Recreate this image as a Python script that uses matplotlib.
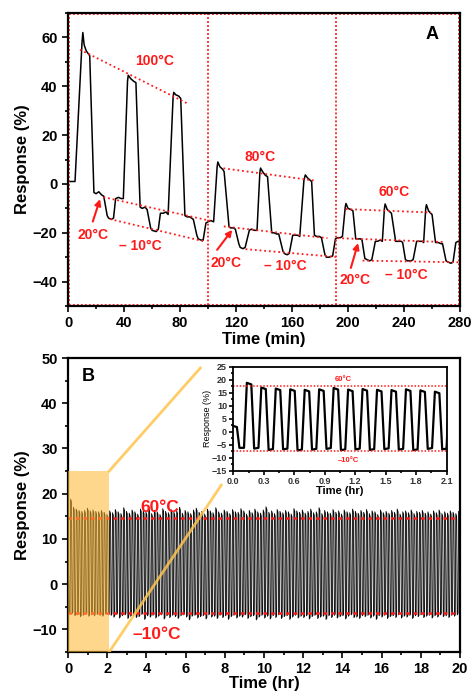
import numpy as np
import matplotlib.pyplot as plt
from matplotlib.patches import Rectangle
from matplotlib.ticker import MultipleLocator

plt.rcParams['font.family'] = ['Liberation Sans', 'DejaVu Sans']
plt.rcParams['font.weight'] = 'bold'
plt.rcParams['axes.labelweight'] = 'bold'

#-- Panel A: response vs time (min), 100 / 80 / 60 C sections --
time_a = [0, 5, 10, 10.6, 11.5, 13, 15.5,
          18.5, 20, 22, 24, 25.5, 28, 29, 31, 32.5, 34, 36, 38, 39.5,
          42.5, 43, 45, 47, 48.5, 51.5, 53, 55, 56.5, 59, 60, 63, 64.5,
          66, 68, 70, 71.5, 75, 75.5, 77, 79, 80.5, 83.5, 85, 87, 89.5,
          92, 93, 95, 96.5, 98.5, 100, 102, 104,
          106.5, 107, 108.5, 110.5, 111.5, 115, 116, 118, 119.5,
          122, 123, 125, 126.5, 129.5, 131, 133, 135,
          137, 137.5, 139, 141, 142.5, 145.5, 147, 149, 150.5,
          153.5, 154.5, 156.5, 158, 160.5, 162, 164, 165.5,
          168.5, 169.5, 171, 173, 174, 176, 177.5, 179.5, 181,
          183.5, 184.5, 186.5, 189, 191, 192.5, 194.5, 196,
          198, 198.5, 200, 202, 203.5, 205.5, 207, 209, 210,
          212, 213.5, 215.5, 217, 219.5, 221, 223, 224.5,
          226, 226.5, 228, 230, 231, 234, 236, 238, 239,
          241, 242.5, 245, 246.5, 249, 251, 253, 254,
          255.5, 256, 257.5, 259, 260, 262.5, 264.5, 266.5, 267.5,
          270, 271.5, 273.5, 275, 277, 278.5, 280]
resp_a = [1, 1, 58, 62, 57, 54.5, 52.5,
          -3.5, -4, -3.2, -4.5, -5, -13, -14, -14.5, -14, -6, -5.5, -6, -6,
          42, 44.5, 43, 42, 41.5, -9.5, -10, -9.5, -10.5, -18, -19, -19.5, -18.5,
          -12, -12, -11.5, -12.5, 35, 37.5, 36.5, 36, 35, -13, -13.5, -13.5, -14.5,
          -21, -22.5, -23, -23, -16, -15.5, -15, -15.5,
          7, 9, 7, 6, 5, -17.5, -18, -18, -18.5,
          -24.5, -26, -26.5, -26, -19, -18.5, -19, -19,
          4.5, 6.5, 5, 3.5, 3, -20, -20, -20.5, -20.5,
          -27.5, -28.5, -29, -28.5, -21, -21, -21, -21.5,
          1.5, 3.7, 2.5, 1.5, 1, -21, -21.5, -21.5, -22,
          -29, -30, -30, -29.5, -22.5, -22, -22, -21.5,
          -9.5, -8, -10, -10.5, -11, -22.5, -22.5, -22.5, -23,
          -30.5, -31, -31.5, -31, -23.5, -23.5, -23, -23.5,
          -10, -8.2, -10.5, -11.5, -12, -23.5, -23.5, -23.5, -24,
          -31, -31.5, -31.5, -31, -23.5, -23.5, -23.5, -24,
          -10, -8.5, -11, -12, -12.5, -24, -24, -24.5, -24.5,
          -31.5, -32, -32.5, -32, -24, -23.5, -24]

# guide lines (start t, start v, end t, end v)
guide_t0 = [8.6, 25.3, 30, 111, 111.3, 126.8, 198.4, 192.5, 210.4]
guide_v0 = [55, -5.4, -14.4, 6.4, -17.4, -26.7, -10.3, -22.2, -31.4]
guide_t1 = [86.2, 101.7, 97, 177, 185.3, 191.3, 259.3, 268.8, 279.6]
guide_v1 = [32.7, -15.1, -23.5, 1.3, -22.2, -29.9, -11.7, -23.8, -32.1]
section_edges = [0.6, 100, 191.3, 279.4]

labels_a = ['100°C', '20°C', '– 10°C', '80°C', '20°C', '– 10°C', '60°C', '20°C', '– 10°C']
label_t = [62, 18, 51.5, 137.5, 112.5, 155.5, 233, 205, 241.5]
label_v = [50.3, -20.8, -25.3, 11.1, -32.4, -33.8, -3.5, -39.2, -37.1]
arrow_from = [(17.7, -15.4), (106.5, -27), (202, -34.4)]
arrow_to = [(22.9, -6.2), (117.3, -18.8), (207.2, -24.2)]

#-- Panel B: 20 hr cycling between 60 C and -10 C --
first_peak = 0.155
cycle_hr = 0.1424
start_resp = [2.2, 1.8]
start_time = [0, 0.035]
trough0 = -6.2
peak_b = [18.8, 17.0, 16.6, 16.3, 16.1, 16.3, 16.8, 16.2, 16.4, 16.1, 16.0, 16.3, 15.9, 15.4,
          16.2, 15.8, 16.5, 16.0, 15.6, 16.9, 16.1, 15.7, 16.4, 16.0,
          15.5, 16.6, 16.2, 15.9, 16.8, 15.6, 16.3, 16.0, 15.4, 16.7,
          16.1, 15.8, 16.5, 15.9, 16.2, 17.0, 15.7, 16.3, 16.0, 15.6,
          16.4, 16.8, 15.9, 16.1, 15.5, 16.6, 16.2, 15.8, 16.9, 16.0,
          15.7, 16.4, 16.1, 15.6, 16.5, 16.0, 15.9, 16.7, 16.2, 15.5,
          16.3, 15.8, 16.6, 16.0, 15.7, 16.4, 17.1, 15.9, 16.2, 15.6,
          16.5, 16.1, 15.8, 16.3, 16.0, 15.5, 16.7, 16.2, 15.9, 16.4,
          15.7, 16.1, 16.6, 15.8, 16.0, 16.9, 15.6, 16.3, 16.0, 15.7,
          16.5, 15.9, 16.2, 15.5, 16.4, 16.0, 15.8, 16.6, 16.1, 15.7,
          16.3, 15.9, 16.5, 15.6, 16.2, 16.0, 15.4, 16.4, 15.8, 16.1,
          15.7, 16.3, 15.9, 16.6, 15.5, 16.0, 16.2, 15.8, 16.4, 15.6,
          16.1, 15.9, 16.3, 15.7, 16.0, 15.5, 16.2, 15.8, 16.4, 15.6,
          16.0, 15.7, 16.2, 15.9, 15.6, 16.1]
trough_b = [-6.5, -7.0, -6.8, -7.2, -6.9, -6.6, -7.1, -6.8, -7.0, -6.7, -6.9, -7.1, -6.6, -6.8,
            -6.9, -7.3, -6.7, -7.5, -7.0, -6.8, -7.6, -7.1, -6.9, -7.4,
            -7.2, -6.7, -7.8, -7.0, -7.3, -6.9, -7.5, -7.1, -6.8, -7.7,
            -7.0, -7.4, -6.9, -7.2, -7.6, -7.0, -6.8, -7.3, -7.9, -7.1,
            -6.9, -7.5, -7.2, -7.0, -7.7, -6.8, -7.3, -7.1, -7.6, -6.9,
            -7.4, -7.0, -7.8, -7.2, -6.9, -7.5, -7.1, -7.3, -6.8, -7.6,
            -7.2, -7.0, -7.9, -7.3, -6.9, -7.5, -7.1, -7.7, -7.0, -7.4,
            -6.8, -7.6, -7.2, -7.0, -7.8, -7.3, -6.9, -7.5, -7.1, -7.4,
            -7.0, -7.7, -7.2, -6.9, -7.6, -7.3, -7.1, -7.8, -7.0, -7.4,
            -6.9, -7.5, -7.2, -7.0, -7.7, -7.1, -6.8, -7.4, -7.3, -7.6,
            -7.0, -7.2, -6.9, -7.5, -7.1, -7.8, -7.0, -7.3, -6.9, -7.6,
            -7.2, -7.0, -7.4, -6.8, -7.5, -7.1, -7.3, -6.9, -7.6, -7.0,
            -7.2, -6.8, -7.4, -7.1, -6.9, -7.5, -7.0, -7.3, -6.8, -7.2,
            -7.0, -7.4, -6.9, -7.1, -6.8, -7.0]
level_60 = 14.6
level_m10 = -6.4
inset_60 = 17.7
inset_m10 = -7.3

# build the square-ish cycle trace from the per cycle peak / trough readings
tb = list(start_time) + [0.06]
vb = list(start_resp) + [trough0]
for j in range(len(peak_b)):
    c = first_peak + j * cycle_hr
    tb += [c - 0.05, c - 0.022, c + 0.022, c + 0.05, c + 0.092]
    vb += [vb[-1], peak_b[j], peak_b[j] - 0.6, trough_b[j], trough_b[j] + 0.3]
tb = np.array(tb[:-1])
vb = np.array(vb[:-1])

red = '#ff1a1a'
fig = plt.figure(figsize=(4.73, 6.96), dpi=100)


def style_axes(ax, lw=1.6, size=10.5, maj=4, mino=2.2):
    for s in ax.spines.values():
        s.set_linewidth(lw)
    ax.tick_params(which='both', direction='out', top=False, right=False,
                   width=1.2, labelsize=size)
    ax.tick_params(which='major', length=maj)
    ax.tick_params(which='minor', length=mino)


#-- A --
axA = fig.add_axes([0.1438, 0.5603, 0.8288, 0.421])
axA.plot(time_a, resp_a, color='black', lw=1.1)
for k in range(len(guide_t0)):
    axA.plot([guide_t0[k], guide_t1[k]], [guide_v0[k], guide_v1[k]],
             color=red, ls=(0, (1, 1.6)), lw=1.3)
for x in section_edges:
    axA.plot([x, x], [-49.4, 69.4], color=red, ls=(0, (1, 1.2)), lw=1.3)
axA.plot([0.6, 279.4], [69.4, 69.4], color=red, ls=(0, (1, 1.2)), lw=1.3)
axA.plot([0.6, 279.4], [-49.4, -49.4], color=red, ls=(0, (1, 1.2)), lw=1.3)
for k in range(len(labels_a)):
    axA.text(label_t[k], label_v[k], labels_a[k], color=red, fontsize=10,
             fontweight='bold', ha='center', va='center')
for a0, a1 in zip(arrow_from, arrow_to):
    axA.annotate('', xy=a1, xytext=a0,
                 arrowprops=dict(arrowstyle='-|>', color=red, lw=1.5,
                                 mutation_scale=9, shrinkA=0, shrinkB=0))
axA.text(260, 61, 'A', fontsize=13, fontweight='bold', ha='center', va='center')
axA.set_xlim(0, 280)
axA.set_ylim(-50, 70)
axA.xaxis.set_major_locator(MultipleLocator(40))
axA.xaxis.set_minor_locator(MultipleLocator(20))
axA.yaxis.set_major_locator(MultipleLocator(20))
axA.yaxis.set_minor_locator(MultipleLocator(10))
axA.set_yticks([-40, -20, 0, 20, 40, 60])
style_axes(axA)
axA.set_xlabel('Time (min)', fontsize=12, labelpad=1)
axA.set_ylabel('Response (%)', fontsize=12, labelpad=2)

#-- B --
axB = fig.add_axes([0.1438, 0.0632, 0.8288, 0.4224])
axB.plot(tb, vb, color='black', lw=0.6)
axB.plot([0, 19.8], [level_60, level_60], color=red, ls=(0, (1.5, 1.5)), lw=1.8)
axB.plot([0, 19.8], [level_m10, level_m10], color=red, ls=(0, (1.5, 1.5)), lw=1.8)
axB.add_patch(Rectangle((0, -15), 2.1, 40, facecolor='#ffb62e', alpha=0.55,
                        edgecolor='none', zorder=3))
axB.plot([2.1, 6.75], [25, 47.8], color='#ffc44d', lw=2, alpha=0.85, zorder=4)
axB.plot([2.1, 7.82], [-15, 21.9], color='#ffc44d', lw=2, alpha=0.85, zorder=4)
axB.text(4.67, 17.0, '60°C', color=red, fontsize=12.5, fontweight='bold',
         ha='center', va='center')
axB.text(4.53, -11.2, '–10°C', color=red, fontsize=12.5, fontweight='bold',
         ha='center', va='center')
axB.text(1.04, 45.9, 'B', fontsize=13, fontweight='bold', ha='center', va='center')
axB.set_xlim(0, 20)
axB.set_ylim(-15, 50)
axB.xaxis.set_major_locator(MultipleLocator(2))
axB.xaxis.set_minor_locator(MultipleLocator(1))
axB.yaxis.set_major_locator(MultipleLocator(10))
axB.yaxis.set_minor_locator(MultipleLocator(5))
style_axes(axB)
axB.set_xlabel('Time (hr)', fontsize=12, labelpad=0)
axB.set_ylabel('Response (%)', fontsize=12, labelpad=2)

#-- inset --
axI = fig.add_axes([0.4933, 0.3237, 0.451, 0.1494])
axI.plot(tb, vb, color='black', lw=1.6)
axI.plot([0, 2.1], [inset_60, inset_60], color=red, ls=(0, (1, 1.2)), lw=1.1)
axI.plot([0, 2.1], [inset_m10, inset_m10], color=red, ls=(0, (1, 1.2)), lw=1.1)
axI.text(1.083, 20.2, '60°C', color=red, fontsize=5.5, ha='center', va='center')
axI.text(1.13, -10.9, '–10°C', color=red, fontsize=5.5, ha='center', va='center')
axI.set_xlim(0, 2.1)
axI.set_ylim(-15, 25)
axI.xaxis.set_major_locator(MultipleLocator(0.3))
axI.xaxis.set_minor_locator(MultipleLocator(0.15))
axI.yaxis.set_major_locator(MultipleLocator(5))
axI.yaxis.set_minor_locator(MultipleLocator(2.5))
axI.xaxis.set_major_formatter(plt.FormatStrFormatter('%.1f'))
style_axes(axI, lw=1.3, size=6.5, maj=3, mino=1.5)
axI.tick_params(labelcolor='#333333', pad=1.5)
axI.set_xlabel('Time (hr)', fontsize=8, labelpad=0)
axI.set_ylabel('Response (%)', fontsize=6.5, labelpad=0, fontweight='normal')

fig.savefig('out.png', dpi=100)
